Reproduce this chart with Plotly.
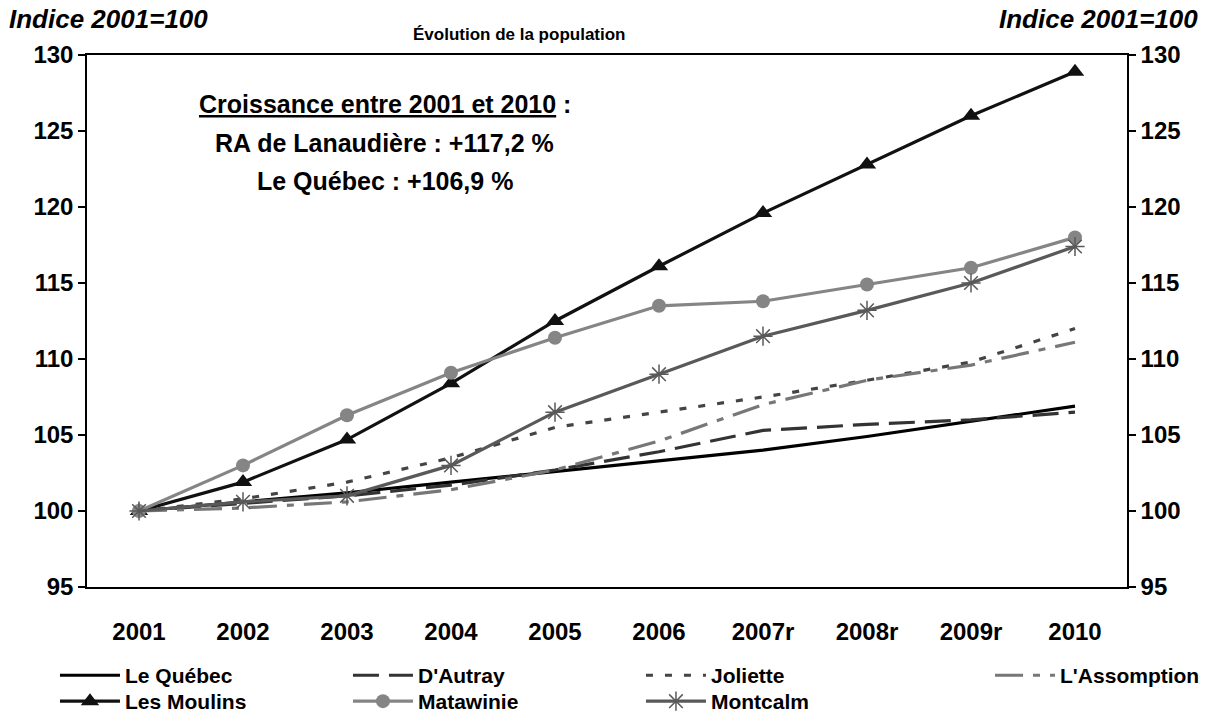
import plotly.graph_objects as go

years = ["2001", "2002", "2003", "2004", "2005", "2006", "2007r", "2008r", "2009r", "2010"]
quebec = [100, 100.6, 101.2, 101.9, 102.6, 103.3, 104.0, 104.9, 105.9, 106.9]
dautray = [100, 100.5, 101.0, 101.7, 102.7, 103.9, 105.3, 105.7, 106.0, 106.5]
joliette = [100, 100.8, 101.9, 103.5, 105.5, 106.5, 107.5, 108.6, 109.8, 112.0]
lassomption = [100, 100.2, 100.6, 101.4, 102.7, 104.6, 107.0, 108.6, 109.6, 111.1]
moulins = [100, 101.9, 104.7, 108.4, 112.5, 116.1, 119.6, 122.8, 126.0, 128.9]
matawinie = [100, 103.0, 106.3, 109.1, 111.4, 113.5, 113.8, 114.9, 116.0, 118.0]
montcalm = [100, 100.6, 101.0, 103.0, 106.5, 109.0, 111.5, 113.2, 115.0, 117.4]

yticks = [95, 100, 105, 110, 115, 120, 125, 130]

FONT = "Liberation Sans, Arial, sans-serif"

fig = go.Figure()

def add_line(y, name, color, dash="solid", width=3.2, marker=None, legend="legend"):
    kw = dict(x=years, y=y, name=name, legend=legend,
              line=dict(color=color, width=width, dash=dash))
    if marker:
        kw["mode"] = "lines+markers"
        kw["marker"] = marker
    else:
        kw["mode"] = "lines"
    fig.add_trace(go.Scatter(**kw))

add_line(quebec, "Le Québec", "#000000")
add_line(dautray, "D'Autray", "#333333", dash="26px,10px")
add_line(joliette, "Joliette", "#444444", dash="7px,12px")
add_line(lassomption, "L'Assomption", "#777777", dash="28px,10px,7px,10px", legend="legend3")
add_line(moulins, "Les Moulins", "#111111",
         marker=dict(symbol="triangle-up", size=16, color="#111111"), legend="legend2")
add_line(matawinie, "Matawinie", "#858585",
         marker=dict(symbol="circle", size=14, color="#858585"), legend="legend2")
add_line(montcalm, "Montcalm", "#595959",
         marker=dict(symbol="asterisk-open", size=16, color="#595959",
                     line=dict(color="#595959", width=1.5)), legend="legend2")

tickfont = dict(family=FONT, size=24, color="#000000", weight="bold")
legfont = dict(family=FONT, size=21, color="#000000", weight="bold")

def leg(x, y):
    return dict(orientation="h", x=x, xanchor="left", y=y, yanchor="top",
                entrywidth=218, font=legfont, itemwidth=60, tracegroupgap=0,
                bgcolor="rgba(0,0,0,0)")

fig.update_layout(
    width=1208, height=715,
    margin=dict(l=87, r=81, t=55, b=128, autoexpand=False),
    paper_bgcolor="white", plot_bgcolor="white",
    font=dict(family=FONT, color="#000000"),
    showlegend=True,
    xaxis=dict(type="category", range=[-0.5, 9.5], showgrid=False, zeroline=False,
               showline=True, linecolor="#000000", linewidth=1.5, mirror=True,
               ticks="outside", ticklen=22, tickcolor="rgba(0,0,0,0)",
               tickfont=tickfont),
    yaxis=dict(range=[95, 130], tickvals=yticks, showgrid=False, zeroline=False,
               showline=True, linecolor="#000000", linewidth=1.5,
               ticks="outside", ticklen=7, tickwidth=1.5, tickcolor="#000000",
               tickfont=tickfont),
    yaxis2=dict(range=[95, 130], tickvals=yticks, overlaying="y", side="right",
                showgrid=False, zeroline=False, anchor="x",
                showline=True, linecolor="#000000", linewidth=1.5,
                ticks="outside", ticklen=7, tickwidth=1.5, tickcolor="#000000",
                tickfont=tickfont),
    legend=leg(-0.0308, -0.128),
    legend3=leg(0.8683, -0.128),
    legend2=leg(-0.0308, -0.1767),
)

# invisible trace so the right axis is drawn
fig.add_trace(go.Scatter(x=[years[0]], y=[100], yaxis="y2", mode="markers",
                         marker=dict(opacity=0), showlegend=False, hoverinfo="skip"))

ann_font = dict(family=FONT, size=25, color="#000000", weight="bold")
fig.add_annotation(text="Évolution de la population", xref="paper", yref="paper",
                   x=0.416, xanchor="center", y=1.0376, yanchor="middle", showarrow=False,
                   font=dict(family=FONT, size=17, color="#000000", weight="bold"))
fig.add_annotation(text="<i>Indice 2001=100</i>", xref="paper", yref="paper",
                   x=-0.077, xanchor="left", y=1.0677, yanchor="middle", showarrow=False,
                   font=dict(family=FONT, size=26, color="#000000", weight="bold"))
fig.add_annotation(text="<i>Indice 2001=100</i>", xref="paper", yref="paper",
                   x=1.0702, xanchor="right", y=1.0677, yanchor="middle", showarrow=False,
                   font=dict(family=FONT, size=26, color="#000000", weight="bold"))
fig.add_annotation(text="<u>Croissance entre 2001 et 2010</u> :", xref="paper", yref="paper",
                   x=0.2865, xanchor="center", y=0.908, yanchor="middle", showarrow=False,
                   font=ann_font)
fig.add_annotation(text="RA de Lanaudière : +117,2 %", xref="paper", yref="paper",
                   x=0.2865, xanchor="center", y=0.8346, yanchor="middle", showarrow=False,
                   font=ann_font)
fig.add_annotation(text="Le Québec : +106,9 %", xref="paper", yref="paper",
                   x=0.2865, xanchor="center", y=0.7632, yanchor="middle", showarrow=False,
                   font=ann_font)

fig.write_html("out.html", config={"displayModeBar": False},
               post_script="document.body.style.margin='0';")
